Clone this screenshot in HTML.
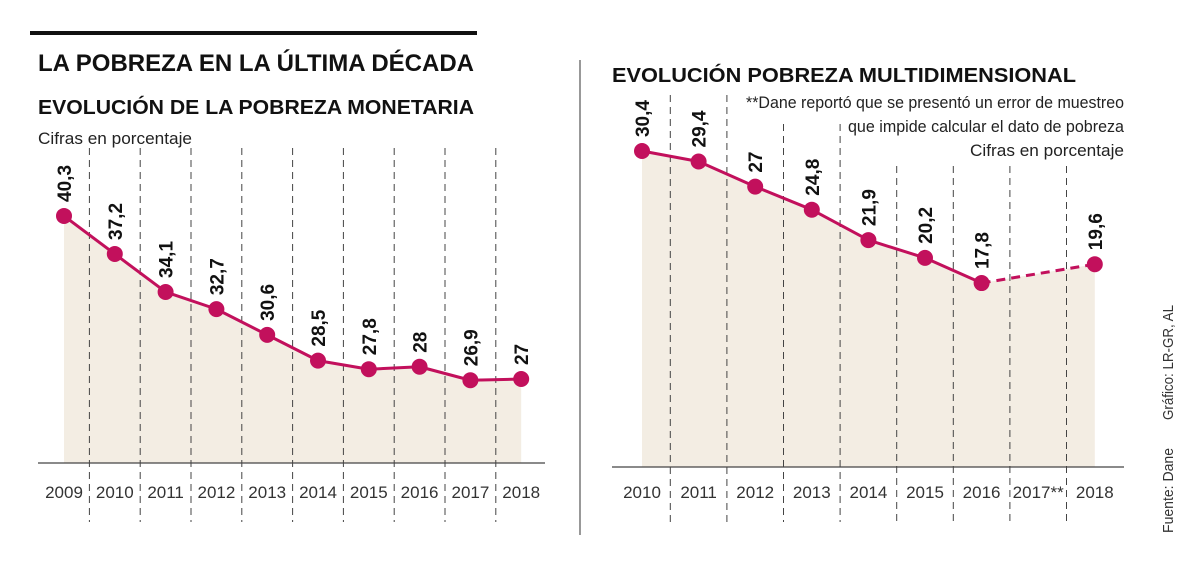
<!DOCTYPE html>
<html><head><meta charset="utf-8"><style>
html,body{margin:0;padding:0;background:#fff;width:1200px;height:561px;overflow:hidden}
svg{display:block;font-family:"Liberation Sans",sans-serif}
</style></head><body>
<svg id="c" width="1200" height="561">
<rect x="30" y="31" width="447" height="4" fill="#111"/>
<text x="38" y="71" font-size="24" font-weight="bold" fill="#111" textLength="436" lengthAdjust="spacingAndGlyphs">LA POBREZA EN LA ÚLTIMA DÉCADA</text>
<text x="38" y="114" font-size="20" font-weight="bold" fill="#111" textLength="436" lengthAdjust="spacingAndGlyphs">EVOLUCIÓN DE LA POBREZA MONETARIA</text>
<text x="38" y="144" font-size="17" fill="#222" textLength="154" lengthAdjust="spacingAndGlyphs">Cifras en porcentaje</text>
<line x1="580" y1="60" x2="580" y2="535" stroke="#555" stroke-width="1.2"/>
<text x="612" y="82" font-size="20" font-weight="bold" fill="#111" textLength="464" lengthAdjust="spacingAndGlyphs">EVOLUCIÓN POBREZA MULTIDIMENSIONAL</text>
<text x="1124" y="108" font-size="17" fill="#222" text-anchor="end" textLength="378" lengthAdjust="spacingAndGlyphs">**Dane reportó que se presentó un error de muestreo</text>
<text x="1124" y="132" font-size="17" fill="#222" text-anchor="end" textLength="276" lengthAdjust="spacingAndGlyphs">que impide calcular el dato de pobreza</text>
<text x="1124" y="156" font-size="17" fill="#222" text-anchor="end" textLength="154" lengthAdjust="spacingAndGlyphs">Cifras en porcentaje</text>
<text transform="translate(1173,420) rotate(-90)" font-size="15" fill="#333" textLength="115" lengthAdjust="spacingAndGlyphs">Gráfico: LR-GR, AL</text>
<text transform="translate(1173,533) rotate(-90)" font-size="15" fill="#333" textLength="85" lengthAdjust="spacingAndGlyphs">Fuente: Dane</text>
<g id="g1"></g><g id="g2"></g>
</svg>
<script>
const leftYears=["2009","2010","2011","2012","2013","2014","2015","2016","2017","2018"];
const leftValues=[40.3,37.2,34.1,32.7,30.6,28.5,27.8,28,26.9,27];
const leftLabels=["40,3","37,2","34,1","32,7","30,6","28,5","27,8","28","26,9","27"];
const rightYears=["2010","2011","2012","2013","2014","2015","2016","2017**","2018"];
const rightValues=[30.4,29.4,27,24.8,21.9,20.2,17.8,null,19.6];
const rightLabels=["30,4","29,4","27","24,8","21,9","20,2","17,8","","19,6"];
const NS="http://www.w3.org/2000/svg";
const C="#c2105c";
function mk(p,t,a){const e=document.createElementNS(NS,t);for(const k in a)e.setAttribute(k,a[k]);p.appendChild(e);return e;}
function draw(g,years,vals,labels,o){
  const x=i=>o.x0+i*o.step;
  const y=v=>o.yb-(v-o.vmin)*o.ppu;
  const pts=[];vals.forEach((v,i)=>{if(v!==null)pts.push([x(i),y(v)]);});
  let d="M"+pts[0][0]+","+o.base+" "+pts.map(p=>"L"+p[0]+","+p[1]).join(" ")+" L"+pts[pts.length-1][0]+","+o.base+"Z";
  const area=mk(g,"path",{d:d,fill:"#f3ede3"});
  
  
  for(let i=0;i<years.length-1;i++){
    const top=o.gtop(x(i+0.5));
    const l=mk(g,"line",{x1:x(i+0.5),x2:x(i+0.5),y1:top,y2:522,stroke:"#444","stroke-width":1,"stroke-dasharray":"7,5"});
    
    
  }
  const ax=mk(g,"line",{x1:o.ax1,x2:o.ax2,y1:o.base,y2:o.base,stroke:"#444","stroke-width":1.2});
  
  
  for(let k=0;k<pts.length-1;k++){
    const seg=mk(g,"line",{x1:pts[k][0],y1:pts[k][1],x2:pts[k+1][0],y2:pts[k+1][1],stroke:C,"stroke-width":3});
    if(pts[k+1][0]-pts[k][0]>o.step*1.5)seg.setAttribute("stroke-dasharray","9,6");
    
    
  }
  vals.forEach((v,i)=>{
    const t=mk(g,"text",{x:x(i),y:498,"font-size":17,fill:"#333","text-anchor":"middle"});
    t.textContent=years[i];
    
    
    if(v===null)return;
    const c=mk(g,"circle",{cx:x(i),cy:y(v),r:8,fill:C});
    
    
    const lb=mk(g,"text",{transform:"translate("+(x(i)+7)+","+(y(v)-14)+") rotate(-90)","font-size":19,"font-weight":"bold",fill:"#111"});
    lb.textContent=labels[i];
    
    
  });
}
draw(document.getElementById("g1"),leftYears,leftValues,leftLabels,{x0:64,step:50.8,yb:463,vmin:20.15,ppu:12.26,base:463,gtop:()=>148,ax1:38,ax2:545});
draw(document.getElementById("g2"),rightYears,rightValues,rightLabels,{x0:642,step:56.6,yb:469.6,vmin:0,ppu:10.48,base:467,gtop:px=>px<740?95:(px<870?124:166),ax1:612,ax2:1124});
</script>
</body></html>
